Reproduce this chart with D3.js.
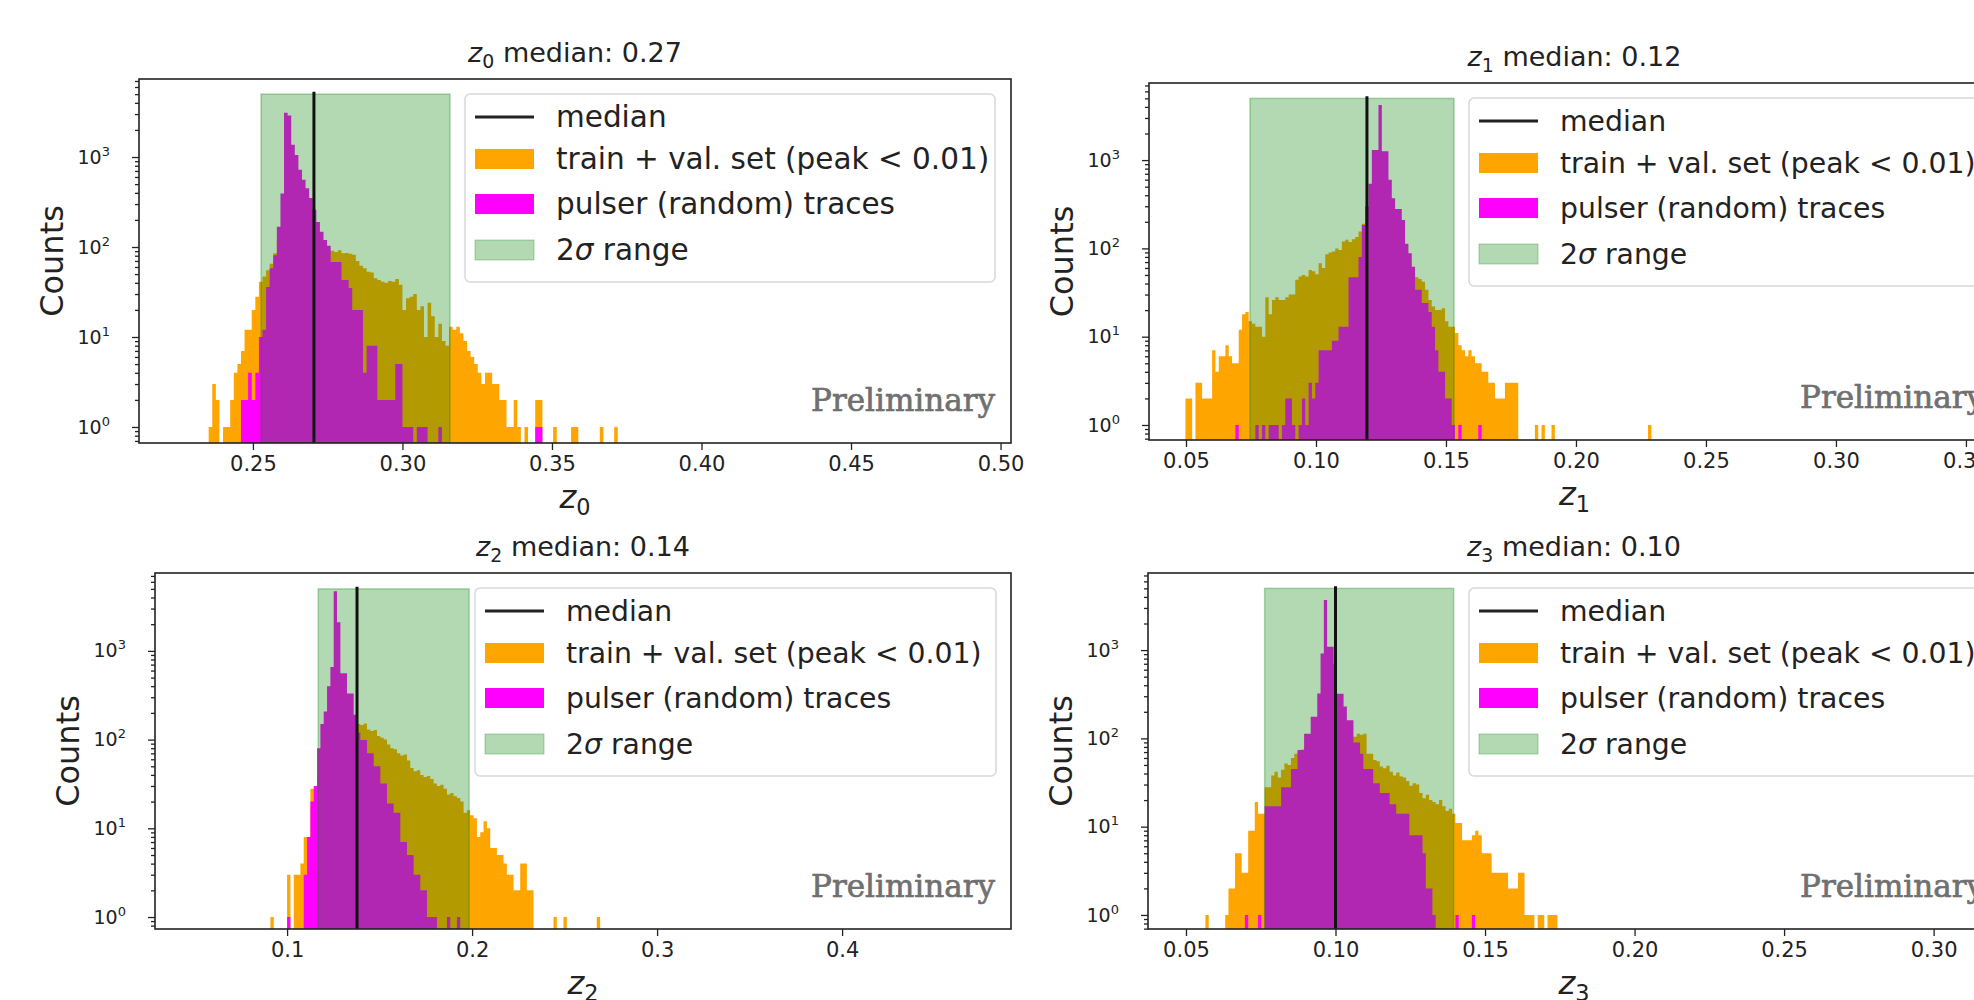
<!DOCTYPE html>
<html>
<head>
<meta charset="utf-8">
<script src="https://cdn.jsdelivr.net/npm/d3@7"></script>
<style>
  body { margin: 0; background: #fff; }
  svg { display: block; font-family: "DejaVu Sans", sans-serif; }
</style>
</head>
<body>
<svg id="chart" width="1974" height="1000"></svg>
<script>
// counts per bin (log y axis)
var z0Start = 0.2352, z0Bin = 0.0012;
var z0Train = [1,3,2,0,1,1,2,4,5,7, 12,12,20,28,41,47,55,65,85,120,
  130,140,150,150,150,150,145,140,130,120, 100,95,93,92,91,88,92,85,86,84,
  82,70,62,58,53,52,45,43,41,40, 42,41,44,38,20,27,28,30,20,22,
  10,24,17,10,14,9,8,13,12,13, 11,9,7,6,5,4,3,4,4,3,
  3,2,2,1,1,2,1,0,1,0, 0,2,2,0,0,0,1,0,0,0,
  0,1,1,0,0,0,0,0,0,1, 0,0,0,1];
var z0Pulser = [0,0,0,0,0,0,0,0,0,2, 2,4,2,4,10,12,36,58,81,168,
  394,3100,2900,1370,1050,720,560,450,350,260, 190,148,120,103,68,68,68,43,43,35,
  20,20,20,4,8,8,8,2,2,2, 2,2,5,5,1,1,1,0,1,1,
  1,0,0,0,1,0,0,0,0,0, 0,0,0,0,0,0,0,0,0,0,
  0,0,0,0,0,0,0,0,0,0, 0,1,1];

var z1Start = 0.0498, z1Bin = 0.00128;
var z1Train = [2,2,0,3,3,2,2,2,7,4, 6,6,8,6,5,5,12,18,19,15,
  14,13,13,10,28,18,26,28,26,26, 28,30,30,44,48,50,48,57,55,51,
  68,60,86,90,92,100,96,120,125,118, 127,135,155,190,200,200,200,200,200,200,
  200,150,120,100,90,80,70,60,52,47, 45,42,34,26,22,20,20,21,15,13,
  13,11,8,7,6,7,6,5,5,4, 4,3,3,2,2,2,3,3,3,3,
  0,0,0,0,0,1,0,1,0,0, 1,0,0,0,0,0,0,0,0,0,
  0,0,0,0,0,0,0,0,0,0, 0,0,0,0,0,0,0,0,0,1];
var z1Pulser = [0,0,0,0,0,0,0,0,0,0, 0,0,0,0,0,1,0,0,0,0,
  0,1,0,1,0,1,1,1,0,1, 2,2,1,0,1,2,1,3,2,3,
  7,7,7,7,9,9,13,13,13,47, 47,47,80,184,300,540,1300,1300,4200,1260,
  1260,600,370,280,280,210,113,88,62,34, 34,24,24,19,13,7,4,4,2,2,
  1,0,1,0,0,0,0,0,1];

var z2Start = 0.0910, z2Bin = 0.0018;
var z2Train = [1,0,0,0,0,3,0,3,3,4, 8,8,28,28,40,60,80,100,120,140,
  150,150,150,150,150,150,150,146,152,130, 125,128,110,105,100,88,80,78,70,66,
  68,58,48,44,45,40,38,39,36,32, 30,31,28,24,25,23,22,20,15,16,
  14,13,8,9,12,10,6,6,5,5, 4,3,3,2,2,4,4,2,2,0,
  0,0,0,0,0,1,0,0,1,0, 0,0,0,0,0,0,0,0,1];
var z2Pulser = [0,0,0,0,0,1,0,0,0,0, 3,8,20,30,80,150,207,400,660,4700,
  2100,560,560,330,330,190,120,99,99,70, 70,50,50,32,32,19,19,15,15,7,
  7,5,5,3,3,2,2,1,1,1, 0,0,0,1,0,0,1];

var z3Start = 0.0565, z3Bin = 0.0011;
var z3Train = [1,0,0,0,0,0,1,2,2,5, 5,3,3,9,9,19,14,14,28,28,
  38,42,36,44,52,50,60,67,70,75, 80,85,90,95,100,100,100,100,100,100,
  100,100,100,100,104,104,113,110,113,67, 67,57,55,48,46,49,42,38,41,37,
  36,33,29,31,30,24,21,23,20,19, 18,20,17,15,16,14,11,11,7,7,
  7,8,9,8,5,5,5,3,3,3, 3,3,2,2,2,3,3,1,1,1,
  0,1,1,0,1,1,1];
var z3Pulser = [0,0,0,0,0,0,0,0,0,0, 0,0,1,0,0,0,1,0,17,17,
  17,17,17,28,28,28,45,45,74,74, 113,113,176,176,322,915,3700,1090,1090,700,
  320,320,230,160,160,90,90,67,45,45, 45,31,31,24,24,24,18,18,14,14,
  14,14,8,8,8,8,5,2,2,1, 0,0,0,0,0,0,1,0,0,0,
  0,1];

var medians = [0.2704, 0.1196, 0.1378, 0.1000];
var medianText = ["0.27", "0.12", "0.14", "0.10"];
var sigmaLow = [0.2527, 0.0746, 0.1168, 0.0763];
var sigmaHigh = [0.3159, 0.1531, 0.1984, 0.1395];
var spanTop = 5000;
var medianTop = 5300;

var xTicks = [
  [0.25, 0.30, 0.35, 0.40, 0.45, 0.50],
  [0.05, 0.10, 0.15, 0.20, 0.25, 0.30, 0.35],
  [0.1, 0.2, 0.3, 0.4],
  [0.05, 0.10, 0.15, 0.20, 0.25, 0.30]
];
var xTickFormat = [".2f", ".2f", ".1f", ".2f"];
var yTicks = [1, 10, 100, 1000];
var legendLabels = ["median", "train + val. set (peak < 0.01)", "pulser (random) traces", "range"];

var binStart = [z0Start, z1Start, z2Start, z3Start];
var binWidth = [z0Bin, z1Bin, z2Bin, z3Bin];
var trainCounts = [z0Train, z1Train, z2Train, z3Train];
var pulserCounts = [z0Pulser, z1Pulser, z2Pulser, z3Pulser];

var panels = [
  {left: 139, top: 79, width: 872, height: 364, xDomain: [0.2119, 0.5035], yLog: [-0.178, 3.867], legendX: 326, legendW: 530, legendFont: 29.5},
  {left: 1149, top: 83, width: 851, height: 357, xDomain: [0.03577, 0.3631], yLog: [-0.17, 3.873], legendX: 320, legendW: 525, legendFont: 28.3},
  {left: 155, top: 573, width: 856, height: 356, xDomain: [0.0286, 0.4913], yLog: [-0.135, 3.878], legendX: 320, legendW: 521, legendFont: 28.3},
  {left: 1148, top: 573, width: 852, height: 356, xDomain: [0.0373, 0.3222], yLog: [-0.159, 3.873], legendX: 321, legendW: 525, legendFont: 28.3}
];

var svg = d3.select("#chart");
svg.append("rect").attr("width", 1974).attr("height", 1000).attr("fill", "#fff");

function steps(start, w, counts) {
  var pts = counts.map((c, i) => ({x: start + i * w, c: c}));
  pts.push({x: start + counts.length * w, c: 0});
  return pts;
}

function minorTicks(y) {
  var dom = y.domain(), out = [];
  for (var e = -1; e <= 3; e++) {
    for (var m = 2; m <= 9; m++) {
      var v = m * Math.pow(10, e);
      if (v >= dom[0] && v <= dom[1]) out.push(v);
    }
  }
  return out;
}

function subscripted(sel, base, sub, size) {
  sel.append("tspan").attr("font-style", "italic").text(base);
  sel.append("tspan").attr("font-size", size * 0.7).attr("dy", size * 0.22).text(sub);
}

function drawPanel(p, k) {
  var g = svg.append("g").attr("transform", `translate(${p.left},${p.top})`);

  var x = d3.scaleLinear().domain(p.xDomain).range([0, p.width]);
  var y = d3.scaleLog()
      .domain([Math.pow(10, p.yLog[0]), Math.pow(10, p.yLog[1])])
      .range([p.height, 0]);

  g.append("clipPath").attr("id", "clip" + k)
    .append("rect").attr("width", p.width).attr("height", p.height);
  var plot = g.append("g").attr("clip-path", `url(#clip${k})`);

  var area = d3.area()
      .curve(d3.curveStepAfter)
      .x(d => x(d.x))
      .y0(p.height)
      .y1(d => d.c > 0 ? y(d.c) : p.height);

  plot.append("path")
    .datum(steps(binStart[k], binWidth[k], trainCounts[k]))
    .attr("d", area)
    .attr("fill", "#ffa500");

  plot.append("path")
    .datum(steps(binStart[k], binWidth[k], pulserCounts[k]))
    .attr("d", area)
    .attr("fill", "#ff00ff");

  // 2 sigma band on top of the bars
  plot.append("rect")
    .attr("x", x(sigmaLow[k]))
    .attr("width", x(sigmaHigh[k]) - x(sigmaLow[k]))
    .attr("y", y(spanTop))
    .attr("height", p.height - y(spanTop))
    .attr("fill", "green")
    .attr("fill-opacity", 0.3)
    .attr("stroke", "green")
    .attr("stroke-opacity", 0.3)
    .attr("stroke-width", 1.5);

  plot.append("line")
    .attr("x1", x(medians[k])).attr("x2", x(medians[k]))
    .attr("y1", p.height).attr("y2", y(medianTop))
    .attr("stroke", "#111")
    .attr("stroke-width", 3);

  // axes
  var xAxis = g.append("g")
    .attr("transform", `translate(0,${p.height})`)
    .call(d3.axisBottom(x).tickValues(xTicks[k]).tickFormat(d3.format(xTickFormat[k])).tickSize(7).tickSizeOuter(0).tickPadding(6));
  xAxis.attr("font-size", 21).attr("font-family", "DejaVu Sans");

  g.append("g")
    .call(d3.axisLeft(y).tickValues(minorTicks(y)).tickFormat("").tickSize(4).tickSizeOuter(0));

  var yAxis = g.append("g")
    .call(d3.axisLeft(y).tickValues(yTicks).tickFormat("").tickSize(7).tickSizeOuter(0).tickPadding(22));
  yAxis.attr("font-size", 19).attr("font-family", "DejaVu Sans");
  yAxis.selectAll(".tick text").each(function(d) {
    var t = d3.select(this);
    t.append("tspan").text("10");
    t.append("tspan").attr("font-size", 13).attr("dy", -8).text(Math.round(Math.log10(d)));
  });

  g.selectAll(".domain").remove();
  g.selectAll(".tick line").attr("stroke", "#222").attr("stroke-width", 1.3);
  g.selectAll(".tick text").attr("fill", "#222");

  g.append("rect")
    .attr("width", p.width).attr("height", p.height)
    .attr("fill", "none")
    .attr("stroke", "#222")
    .attr("stroke-width", 1.6);

  // legend, upper right
  var lh = 188;
  var legend = g.append("g").attr("transform", `translate(${p.legendX},15)`);
  legend.append("rect")
    .attr("width", p.legendW).attr("height", lh).attr("rx", 5)
    .attr("fill", "#fff").attr("fill-opacity", 0.8)
    .attr("stroke", "#d8d8d8").attr("stroke-width", 1.5);
  var rows = [23, 65, 110, 156];
  legend.append("line")
    .attr("x1", 10).attr("x2", 69).attr("y1", rows[0]).attr("y2", rows[0])
    .attr("stroke", "#222").attr("stroke-width", 3);
  legend.append("rect").attr("x", 10).attr("y", rows[1] - 10).attr("width", 59).attr("height", 20).attr("fill", "#ffa500");
  legend.append("rect").attr("x", 10).attr("y", rows[2] - 10).attr("width", 59).attr("height", 20).attr("fill", "#ff00ff");
  legend.append("rect").attr("x", 10).attr("y", rows[3] - 10).attr("width", 59).attr("height", 20)
    .attr("fill", "green").attr("fill-opacity", 0.3).attr("stroke", "green").attr("stroke-opacity", 0.3);
  legendLabels.forEach((lab, i) => {
    var t = legend.append("text")
      .attr("x", 91).attr("y", rows[i] + 10)
      .attr("font-size", p.legendFont).attr("fill", "#222");
    if (i === 3) {
      t.append("tspan").text("2");
      t.append("tspan").attr("font-style", "italic").text("σ");
      t.append("tspan").text(" " + lab);
    } else {
      t.text(lab);
    }
  });

  g.append("text")
    .attr("x", p.width - 16).attr("y", p.height - 32)
    .attr("text-anchor", "end")
    .attr("font-family", "DejaVu Serif")
    .attr("font-size", 31)
    .attr("fill", "#707070")
    .attr("stroke", "#707070")
    .attr("stroke-width", 0.7)
    .text("Preliminary");

  // title and axis labels
  var title = g.append("text")
    .attr("x", p.width / 2).attr("y", -17)
    .attr("text-anchor", "middle")
    .attr("font-size", 27).attr("fill", "#222");
  subscripted(title, "z", k, 27);
  title.append("tspan").attr("dy", -27 * 0.22).text(" median: " + medianText[k]);

  var xl = g.append("text")
    .attr("x", p.width / 2).attr("y", p.height + 65)
    .attr("text-anchor", "middle")
    .attr("font-size", 32).attr("fill", "#222");
  subscripted(xl, "z", k, 32);

  g.append("text")
    .attr("transform", `translate(-87,${p.height / 2}) rotate(-90)`)
    .attr("text-anchor", "middle")
    .attr("dominant-baseline", "central")
    .attr("font-size", 32).attr("fill", "#222")
    .text("Counts");
}

panels.forEach(drawPanel);
</script>
</body>
</html>
